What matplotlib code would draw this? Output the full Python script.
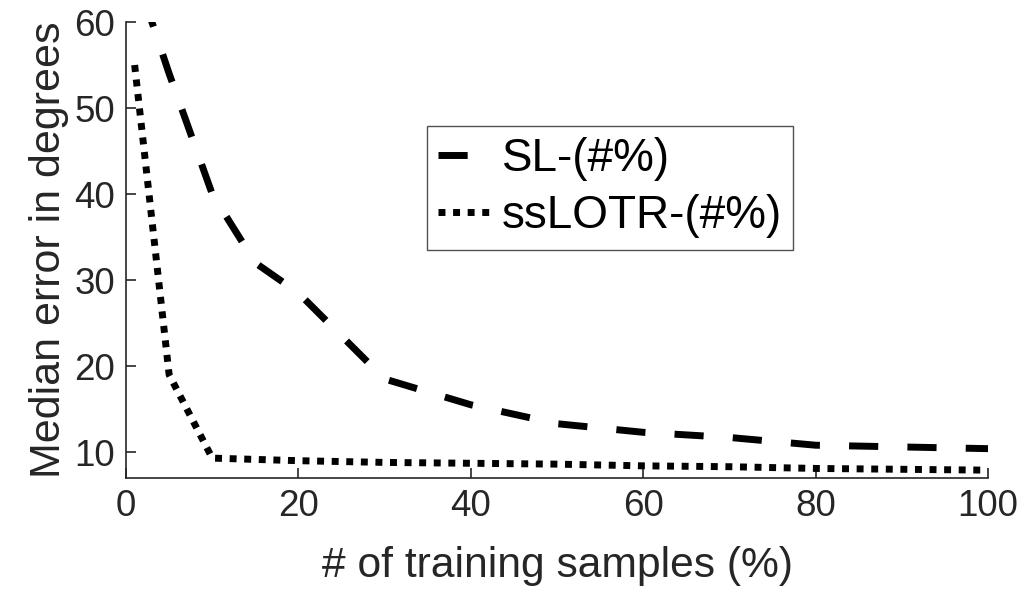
import matplotlib
matplotlib.use("Agg")
import matplotlib.pyplot as plt

# values
x_sl = [1, 5, 10, 15, 20, 30, 40, 50, 60, 70, 80, 90, 100]
y_sl = [66, 54, 40, 32, 28.5, 18.5, 15.5, 13.3, 12.3, 11.7, 10.8, 10.6, 10.4]

x_ss = [1, 5, 10, 20, 30, 40, 50, 60, 70, 80, 90, 100]
y_ss = [55, 19, 9.3, 9.0, 8.8, 8.7, 8.6, 8.4, 8.3, 8.1, 8.0, 7.9]

xticks = [0, 20, 40, 60, 80, 100]
yticks = [10, 20, 30, 40, 50, 60]

plt.rcParams['font.family'] = ['Liberation Sans', 'DejaVu Sans']
gray = '#262626'

fig = plt.figure(figsize=(10.33, 5.9), dpi=100)
ax = fig.add_axes([0.122, 0.19, 0.8345, 0.7727])

ax.plot(x_sl, y_sl, color='black', lw=5, linestyle=(0, (4.2, 4.2)),
        dash_capstyle='butt', label='SL-(#%)')
ax.plot(x_ss, y_ss, color='black', lw=5, linestyle=(0, (1, 1.1)),
        dash_capstyle='butt', label='ssLOTR-(#%)')

ax.set_xlim(0, 100)
ax.set_ylim(7, 60)
ax.set_xticks(xticks)
ax.set_yticks(yticks)

for s in ['top', 'right']:
    ax.spines[s].set_visible(False)
for s in ['left', 'bottom']:
    ax.spines[s].set_color(gray)
    ax.spines[s].set_linewidth(1.2)

ax.tick_params(direction='in', length=7, width=1.2, colors=gray,
               labelsize=26.5, labelcolor=gray, pad=8)

ax.set_xlabel('# of training samples (%)', fontsize=30.7, color=gray, labelpad=16)
ax.set_ylabel('Median error in degrees', fontsize=31, color=gray, labelpad=4)

leg = ax.legend(loc='upper left', bbox_to_anchor=(0.349, 0.772), fontsize=33,
                frameon=True, fancybox=False, handlelength=1.1,
                handletextpad=0.28, borderpad=0.25, labelspacing=0.28,
                borderaxespad=0)
leg.get_frame().set_edgecolor(gray)
leg.get_frame().set_linewidth(1.0)

fig.savefig('out.png', dpi=100)
